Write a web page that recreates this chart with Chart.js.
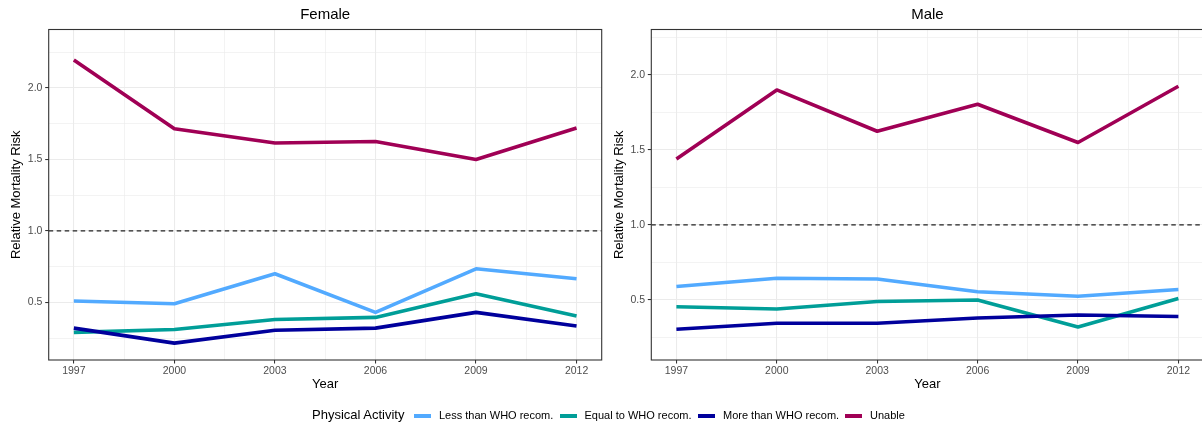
<!DOCTYPE html>
<html>
<head>
<meta charset="utf-8">
<script src="https://cdn.jsdelivr.net/npm/chart.js@4"></script>
<style>
  html, body { margin: 0; padding: 0; background: #fff; overflow: hidden; }
  body { width: 1202px; height: 425px; position: relative; font-family: "Liberation Sans", Arial, sans-serif; }
  canvas { position: absolute; top: 0; }
  #female { left: 0; }
  #male { left: 602px; }
  #legend { position: absolute; left: 0; top: 405px; width: 1202px; height: 21px; color: #000; }
  #legend span { position: absolute; white-space: nowrap; }
  #legend .title { font-size: 13px; left: 312px; top: 2px; }
  #legend .key { width: 17px; height: 4px; top: 8.5px; }
  #legend .lab { font-size: 11px; top: 4px; }
</style>
</head>
<body>
<canvas id="female" width="603" height="425"></canvas>
<canvas id="male" width="604" height="425"></canvas>
<div id="legend"></div>
<script>
// Survey years and relative mortality risk by physical activity level
const years = [1997, 2000, 2003, 2006, 2009, 2012];
const seriesNames = ['Less than WHO recom.', 'Equal to WHO recom.', 'More than WHO recom.', 'Unable'];
const seriesColors = ['#52AAFF', '#009E98', '#00009C', '#A00055'];

const femaleLess   = [0.51, 0.49, 0.70, 0.43, 0.735, 0.665];
const femaleEqual  = [0.29, 0.31, 0.38, 0.395, 0.56, 0.405];
const femaleMore   = [0.32, 0.215, 0.305, 0.32, 0.43, 0.335];
const femaleUnable = [2.195, 1.715, 1.615, 1.625, 1.50, 1.72];

const maleLess   = [0.59, 0.645, 0.64, 0.555, 0.525, 0.57];
const maleEqual  = [0.455, 0.44, 0.49, 0.50, 0.32, 0.51];
const maleMore   = [0.305, 0.345, 0.345, 0.38, 0.40, 0.39];
const maleUnable = [1.44, 1.90, 1.625, 1.805, 1.55, 1.925];

// Reference level (risk = 1)
const referenceRisk = 1.0;

// Axis breaks
const yearBreaks = [1997, 2000, 2003, 2006, 2009, 2012];
const riskBreaks = [0.5, 1.0, 1.5, 2.0];

// Left edge of each legend key
const legendKeyLeft = [414, 559.5, 698, 845];

const FONT = '"Liberation Sans", Arial, sans-serif';
const GRID = '#EBEBEB';
const INK = '#333333';

function withMinor(breaks) {
  const step = breaks[1] - breaks[0];
  const out = [breaks[0] - step / 2];
  breaks.forEach(b => {
    out.push(b);
    out.push(b + step / 2);
  });
  return out;
}

const xMin = 1996.25, xMax = 2012.75;

const panelPlugin = {
  id: 'panel',
  afterDraw(chart, args, opts) {
    const { ctx, chartArea: a } = chart;
    ctx.save();
    ctx.strokeStyle = INK;
    ctx.lineWidth = 1.1;
    ctx.strokeRect(a.left, a.top, a.right - a.left, a.bottom - a.top);
    ctx.fillStyle = '#000';
    ctx.font = '15px ' + FONT;
    ctx.textAlign = 'center';
    ctx.textBaseline = 'middle';
    ctx.fillText(opts.title, (a.left + a.right) / 2, 15);
    ctx.restore();
  }
};

function makePanel(id, title, less, equal, more, unable, yMin, yMax, padLeft, padRight) {
  const xTicks = withMinor(yearBreaks).filter(v => v >= xMin && v <= xMax);
  const yTicks = withMinor(riskBreaks).filter(v => v >= yMin && v <= yMax);
  const isYear = v => yearBreaks.includes(v);
  const isRisk = v => riskBreaks.some(b => Math.abs(b - v) < 1e-9);
  const pts = vals => years.map((y, i) => ({ x: y, y: vals[i] }));
  const line = (k, vals, order) => ({
    label: seriesNames[k],
    data: pts(vals),
    borderColor: seriesColors[k],
    backgroundColor: seriesColors[k],
    borderWidth: 3.6,
    pointRadius: 0,
    tension: 0,
    borderJoinStyle: 'round',
    borderCapStyle: 'butt',
    order: order
  });
  return new Chart(document.getElementById(id), {
    type: 'line',
    data: {
      datasets: [
        {
          label: 'reference',
          data: [{ x: xMin, y: referenceRisk }, { x: xMax, y: referenceRisk }],
          borderColor: '#222222',
          borderWidth: 1.25,
          borderDash: [4.5, 3.5],
          pointRadius: 0,
          order: 9
        },
        line(0, less, 4),
        line(1, equal, 3),
        line(2, more, 2),
        line(3, unable, 1)
      ]
    },
    options: {
      responsive: false,
      animation: false,
      devicePixelRatio: 1,
      layout: { padding: { top: 29.5, left: padLeft, right: padRight, bottom: 33.2 } },
      plugins: {
        legend: { display: false },
        tooltip: { enabled: false },
        panel: { title: title }
      },
      scales: {
        x: {
          type: 'linear',
          min: xMin,
          max: xMax,
          afterBuildTicks: s => { s.ticks = xTicks.map(v => ({ value: v })); },
          afterFit: s => { s.height = 31.8; },
          ticks: {
            autoSkip: false,
            maxRotation: 0,
            padding: 1.5,
            color: '#4D4D4D',
            font: { family: FONT, size: 10.5 },
            callback: v => isYear(v) ? String(v) : ''
          },
          grid: {
            color: GRID,
            lineWidth: c => isYear(c.tick.value) ? 1.07 : 0.6,
            tickLength: 3.5,
            tickColor: c => isYear(c.tick.value) ? INK : 'rgba(0,0,0,0)',
            tickWidth: 1.07
          },
          border: { display: false },
          title: {
            display: true,
            text: 'Year',
            color: '#000',
            padding: { top: 0, bottom: 0 },
            font: { family: FONT, size: 13 }
          }
        },
        y: {
          type: 'linear',
          min: yMin,
          max: yMax,
          afterBuildTicks: s => { s.ticks = yTicks.map(v => ({ value: v })); },
          afterFit: s => { s.width = 39.7; },
          ticks: {
            padding: 2.8,
            color: '#4D4D4D',
            font: { family: FONT, size: 10.5 },
            callback: v => isRisk(v) ? v.toFixed(1) : ''
          },
          grid: {
            color: GRID,
            lineWidth: c => isRisk(c.tick.value) ? 1.07 : 0.6,
            tickLength: 3.5,
            tickColor: c => isRisk(c.tick.value) ? INK : 'rgba(0,0,0,0)',
            tickWidth: 1.07
          },
          border: { display: false },
          title: {
            display: true,
            text: 'Relative Mortality Risk',
            color: '#000',
            padding: { top: 0, bottom: 0 },
            font: { family: FONT, size: 13 }
          }
        }
      }
    },
    plugins: [panelPlugin]
  });
}

makePanel('female', 'Female', femaleLess, femaleEqual, femaleMore, femaleUnable, 0.097, 2.409, 9, 1.3);
makePanel('male', 'Male', maleLess, maleEqual, maleMore, maleUnable, 0.1, 2.303, 9.6, 2.5);

// Shared legend
const legend = document.getElementById('legend');
const t = document.createElement('span');
t.className = 'title';
t.textContent = 'Physical Activity';
legend.appendChild(t);
seriesNames.forEach((name, i) => {
  const k = document.createElement('span');
  k.className = 'key';
  k.style.background = seriesColors[i];
  k.style.left = legendKeyLeft[i] + 'px';
  const l = document.createElement('span');
  l.className = 'lab';
  l.textContent = name;
  l.style.left = (legendKeyLeft[i] + 25) + 'px';
  legend.appendChild(k);
  legend.appendChild(l);
});
</script>
</body>
</html>
